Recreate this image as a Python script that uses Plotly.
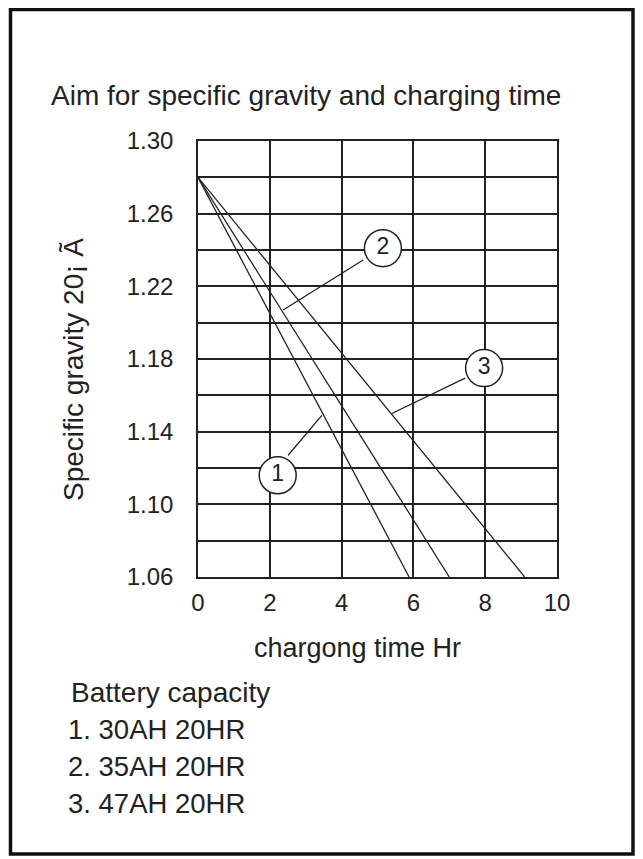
import plotly.graph_objects as go

# ---- data ----
series_labels = ["1", "2", "3"]
capacity_labels = ["1. 30AH 20HR", "2. 35AH 20HR", "3. 47AH 20HR"]
line1_time = [0, 5.88]
line1_sg = [1.28, 1.06]
line2_time = [0, 7.0]
line2_sg = [1.28, 1.06]
line3_time = [0, 9.1]
line3_sg = [1.28, 1.06]

callout_x = [2.22, 5.15, 7.97]
callout_y = [1.116, 1.241, 1.175]
leader_x = [[2.51, 3.45], [4.60, 2.37], [7.44, 5.40]]
leader_y = [[1.127, 1.149], [1.2345, 1.207], [1.1695, 1.150]]

x_ticks = [0, 2, 4, 6, 8, 10]
y_range = [1.06, 1.30]

# ---- layout geometry (pixels, page has an 8px body margin) ----
OFF = 8
W, H = 643 - OFF, 859 - OFF
PLOT_L, PLOT_T, PW, PH = 198, 141, 359, 436          # in page pixels
L, T = PLOT_L - OFF, PLOT_T - OFF
R, B = W - L - PW, H - T - PH
FONT = "Liberation Sans, Arial, sans-serif"


def px(x):
    return (x - PLOT_L) / PW


def py(y):
    return (PLOT_T + PH - y) / PH


fig = go.Figure()
for xs, ys in [(line1_time, line1_sg), (line2_time, line2_sg), (line3_time, line3_sg)]:
    fig.add_trace(go.Scatter(x=xs, y=ys, mode="lines",
                             line=dict(color="#222", width=1.3),
                             hoverinfo="skip", showlegend=False))
for lx, ly in zip(leader_x, leader_y):
    fig.add_trace(go.Scatter(x=lx, y=ly, mode="lines",
                             line=dict(color="#222", width=1.3),
                             hoverinfo="skip", showlegend=False))
fig.add_trace(go.Scatter(x=callout_x, y=callout_y, mode="markers+text",
                         text=series_labels, textposition="middle center",
                         textfont=dict(family=FONT, size=23, color="#222"),
                         marker=dict(size=37, color="white",
                                     line=dict(color="#222", width=1.5)),
                         hoverinfo="skip", showlegend=False))

fig.update_layout(
    width=W, height=H,
    margin=dict(l=L, r=R, t=T, b=B),
    paper_bgcolor="white", plot_bgcolor="white",
    font=dict(family=FONT, size=24, color="#222"),
    showlegend=False,
)
fig.update_xaxes(range=[0, 10], tickvals=x_ticks, showgrid=True,
                 gridcolor="#222", gridwidth=1.6, zeroline=False,
                 showline=True, mirror=True, linecolor="#222", linewidth=1.6,
                 ticks="", ticklabelstandoff=3,
                 tickfont=dict(family=FONT, size=24, color="#222"))
fig.update_yaxes(range=y_range, tick0=1.06, dtick=0.04, tickformat=".2f",
                 showgrid=True, gridcolor="#222", gridwidth=1.6, zeroline=False,
                 minor=dict(dtick=0.02, showgrid=True, gridcolor="#222", gridwidth=1.6),
                 showline=True, mirror=True, linecolor="#222", linewidth=1.6,
                 ticks="", ticklabelstandoff=18,
                 tickfont=dict(family=FONT, size=24, color="#222"))

annotations = [
    dict(text="Aim for specific gravity and charging time", x=px(306), y=py(95),
         xanchor="center", yanchor="middle", font=dict(size=28)),
    dict(text="chargong time Hr", x=px(357), y=py(648),
         xanchor="center", yanchor="middle", font=dict(size=27)),
    dict(text="Specific gravity 20¡ Ã", x=px(73), y=py(370), textangle=-90,
         xanchor="center", yanchor="middle", font=dict(size=28)),
    dict(text="Battery capacity", x=px(69), y=py(692),
         xanchor="left", yanchor="middle", font=dict(size=28)),
]
for i, lab in enumerate(capacity_labels):
    annotations.append(dict(text=lab, x=px(66), y=py(729 + 37 * i),
                            xanchor="left", yanchor="middle", font=dict(size=27.5)))
for a in annotations:
    a.update(xref="paper", yref="paper", showarrow=False)
    a["font"].update(family=FONT, color="#222")
fig.update_layout(annotations=annotations)

fig.add_shape(type="rect", xref="paper", yref="paper",
              x0=px(10.5), x1=px(633), y0=py(854), y1=py(9.5),
              line=dict(color="#111", width=3.5), fillcolor="rgba(0,0,0,0)")

fig.write_html("out.html")
